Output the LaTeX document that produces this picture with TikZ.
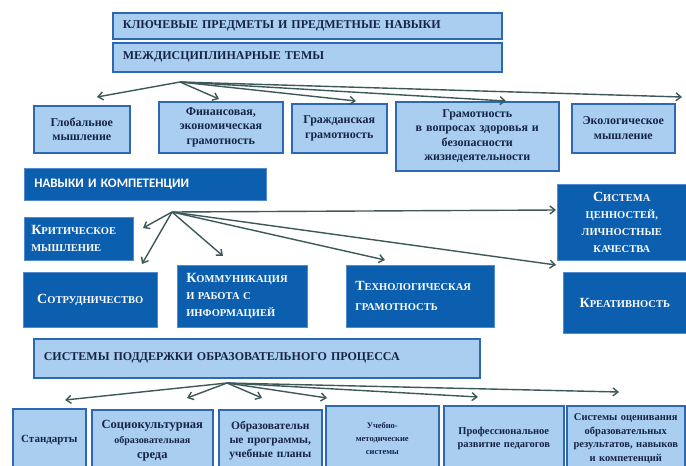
\documentclass[tikz,border=0pt]{standalone}
\usepackage{fontspec}
\setmainfont{Liberation Serif}
\newfontfamily\calfont{Carlito}
\usetikzlibrary{arrows.meta}

\definecolor{paleblue}{RGB}{170,206,239}
\definecolor{edgeblue}{RGB}{45,105,178}
\definecolor{deepblue}{RGB}{12,94,174}
\definecolor{deepedge}{RGB}{80,140,205}
\definecolor{navytext}{RGB}{22,36,70}
\definecolor{arrowgrey}{RGB}{60,88,88}

% first letter big, the rest as small capitals
\newcommand{\firstcap}[2]{{\fontsize{14}{16}\selectfont #1}#2}

\begin{document}
\begin{tikzpicture}[x=1pt, y=-1pt,
    pale/.style = {draw=edgeblue, line width=1.6pt, fill=paleblue, text=navytext, anchor=north west,
                   align=center, inner xsep=2pt, inner ysep=1pt, font=\bfseries\fontsize{12}{14.5}\selectfont},
    deep/.style = {draw=deepedge, line width=0.6pt, fill=deepblue, text=white, anchor=north west,
                   inner xsep=7pt, inner ysep=1pt, font=\bfseries\fontsize{10.5}{17}\selectfont},
    arr/.style = {draw=arrowgrey, line width=1.4pt, -{Straight Barb[length=5pt,width=8pt]}}]
    \clip (0,0) rectangle (686,466);
    \fill[white] (0,0) rectangle (686,466);

    % headers
    \node[pale, align=left, inner xsep=10pt, text width=369pt, minimum height=26pt] (keys) at (112,12) {КЛЮЧЕВЫЕ ПРЕДМЕТЫ И ПРЕДМЕТНЫЕ НАВЫКИ};
    \node[pale, align=left, inner xsep=10pt, text width=369pt, minimum height=29pt] (themes) at (112,42) {МЕЖДИСЦИПЛИНАРНЫЕ ТЕМЫ};

    % themes
    \node[pale, text width=92pt, minimum height=47pt] (glob) at (33,105) {Глобальное\\мышление};
    \node[pale, text width=120pt, minimum height=51pt] (fin) at (158,101) {Финансовая,\\экономическая\\грамотность};
    \node[pale, text width=91pt, minimum height=49pt] (civ) at (291,103) {Гражданская\\грамотность};
    \node[pale, text width=159pt, minimum height=69pt] (health) at (395,101) {Грамотность\\в вопросах здоровья и\\безопасности\\жизнедеятельности};
    \node[pale, text width=99pt, minimum height=49pt] (eco) at (571,103) {Экологическое\\мышление};

    \coordinate (hubA) at (180,82);
    \coordinate (toglob) at (97,97);
    \coordinate (tofin) at (219,99);
    \coordinate (tociv) at (356,101);
    \coordinate (tohealth) at (506,101);
    \coordinate (toeco) at (682,97);
    \foreach \e in {toglob, tofin, tociv, tohealth, toeco}
        \draw[arr] (hubA) -- (\e);

    % skills
    \node[deep, align=left, inner xsep=10pt, text width=222pt, minimum height=32pt, font=\calfont\bfseries\fontsize{13}{15}\selectfont] (skills) at (24,168) {НАВЫКИ И КОМПЕТЕНЦИИ};
    \node[deep, align=left, text width=95pt, minimum height=43pt] (crit) at (24,217) {\firstcap{К}{РИТИЧЕСКОЕ}\\МЫШЛЕНИЕ};
    \node[deep, align=center, text width=120pt, minimum height=55pt] (coop) at (23,272) {\firstcap{С}{ОТРУДНИЧЕСТВО}};
    \node[deep, align=left, inner xsep=9pt, text width=112pt, minimum height=62pt] (comm) at (177,265) {\firstcap{К}{ОММУНИКАЦИЯ}\\И РАБОТА С\\ИНФОРМАЦИЕЙ};
    \node[deep, align=left, inner xsep=9pt, text width=130pt, minimum height=62pt, font=\bfseries\fontsize{10.5}{20}\selectfont] (tech) at (346,265) {\firstcap{Т}{ЕХНОЛОГИЧЕСКАЯ}\\ГРАМОТНОСТЬ};
    \node[deep, align=center, inner xsep=4pt, text width=121pt, minimum height=76pt] (values) at (557,184) {\firstcap{С}{ИСТЕМА}\\ЦЕННОСТЕЙ,\\ЛИЧНОСТНЫЕ\\КАЧЕСТВА};
    \node[deep, align=center, inner xsep=4pt, text width=115pt, minimum height=61pt] (creat) at (563,272) {\firstcap{К}{РЕАТИВНОСТЬ}};

    \coordinate (hubB) at (172,212);
    \coordinate (tocrit) at (143,228);
    \coordinate (tocoop) at (142,264);
    \coordinate (tocomm) at (223,256);
    \coordinate (totech) at (385,260);
    \coordinate (tovalues) at (556,210);
    \coordinate (tocreat) at (556,265);
    \foreach \e in {tocrit, tocoop, tocomm, totech, tovalues, tocreat}
        \draw[arr] (hubB) -- (\e);

    % support systems
    \node[pale, align=left, inner xsep=10pt, text width=426pt, minimum height=39pt] (support) at (33,338) {СИСТЕМЫ ПОДДЕРЖКИ ОБРАЗОВАТЕЛЬНОГО ПРОЦЕССА};
    \node[pale, text width=69pt, minimum height=62pt, font=\bfseries\fontsize{11}{13.5}\selectfont] (std) at (12,408) {Стандарты};
    \node[pale, text width=117pt, minimum height=61pt, font=\bfseries\fontsize{12.5}{15}\selectfont] (socio) at (91,409) {Социокультурная\\{\fontsize{10}{14}\selectfont образовательная}\\среда};
    \node[pale, text width=99pt, minimum height=61pt, font=\bfseries\fontsize{11.5}{14}\selectfont] (edu) at (218,409) {Образовательн\\ые программы,\\учебные планы};
    \node[pale, text width=109pt, minimum height=65pt, font=\bfseries\fontsize{8.5}{13}\selectfont] (method) at (325,405) {Учебно-\\методические\\системы};
    \node[pale, text width=116pt, minimum height=65pt, font=\bfseries\fontsize{10.5}{13.5}\selectfont] (prof) at (443,405) {Профессиональное\\развитие педагогов};
    \node[pale, text width=114pt, minimum height=65pt, font=\bfseries\fontsize{10.5}{13.5}\selectfont] (assess) at (566,405) {Системы оценивания\\образовательных\\результатов, навыков\\и компетенций};

    \coordinate (hubC) at (227,383);
    \coordinate (tostd) at (65,400);
    \coordinate (tosocio) at (187,398);
    \coordinate (toedu) at (262,398);
    \coordinate (tomethod) at (327,398);
    \coordinate (toprof) at (478,397);
    \coordinate (toassess) at (619,392);
    \foreach \e in {tostd, tosocio, toedu, tomethod, toprof, toassess}
        \draw[arr] (hubC) -- (\e);
\end{tikzpicture}
\end{document}
